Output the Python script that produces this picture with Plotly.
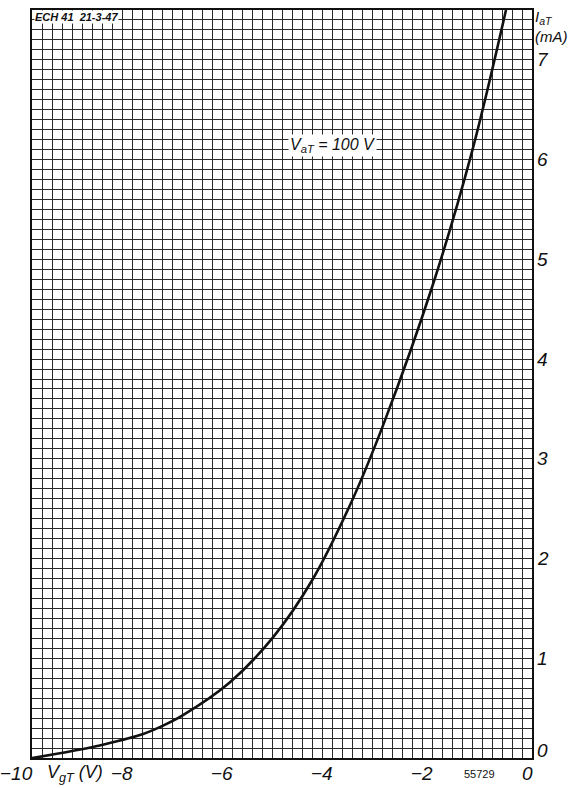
import plotly.graph_objects as go

# Curve data: grid voltage (V) vs anode current (mA)
v_grid = [-10, -9.35, -8.7, -7.84, -7.4, -6.98, -6.04, -5.18, -4.4, -3.6, -2.96,
          -1.98, -1.2, -0.52]
i_anode = [0, 0.055, 0.12, 0.23, 0.32, 0.43, 0.76, 1.21, 1.78, 2.58, 3.36,
           4.75, 6.08, 7.5]

x_tick_vals = [-10, -8, -6, -4, -2, 0]
x_tick_text = ["\u221210", "\u22128", "\u22126", "\u22124", "\u22122", "0"]
y_tick_vals = [0, 1, 2, 3, 4, 5, 6, 7]
y_tick_text = ["0", "1", "2", "3", "4", "5", "6", "7"]

FONT = "Liberation Sans"
ink = "#111111"

fig = go.Figure()
fig.add_trace(go.Scatter(
    x=v_grid, y=i_anode, mode="lines",
    line=dict(color=ink, width=2.6, shape="spline", smoothing=1.0),
    hoverinfo="skip", showlegend=False,
))

annotations = []
for v, t in zip(x_tick_vals, x_tick_text):
    annotations.append(dict(x=v, y=0, xref="x", yref="y", text=f"<i>{t}</i>",
                            showarrow=False, xanchor="right", yanchor="top",
                            xshift=3, yshift=-3,
                            font=dict(family=FONT, size=19, color=ink)))
for val, t in zip(y_tick_vals, y_tick_text):
    annotations.append(dict(x=0, y=val, xref="x", yref="y", text=f"<i>{t}</i>",
                            showarrow=False, xanchor="left", yanchor="middle",
                            xshift=3, yshift=(8 if val == 0 else 0),
                            font=dict(family=FONT, size=19, color=ink)))

annotations += [
    dict(x=-9.75, y=0, xref="x", yref="y", text="<i>V<sub>gT</sub> (V)</i>",
         showarrow=False, xanchor="left", yanchor="top", yshift=-2,
         font=dict(family=FONT, size=18, color=ink)),
    dict(x=-1.05, y=0, xref="x", yref="y", text="55729",
         showarrow=False, xanchor="center", yanchor="top", yshift=-8,
         font=dict(family=FONT, size=11, color=ink)),
    dict(x=1.0, y=1.0, xref="paper", yref="paper",
         text="<i>I<sub>aT</sub></i><br><i>(mA)</i>",
         showarrow=False, xanchor="left", yanchor="top", align="left",
         xshift=1, yshift=4,
         font=dict(family=FONT, size=15, color=ink)),
    dict(x=-9.97, y=7.5, xref="x", yref="y", text="<i><b>ECH 41  21-3-47</b></i>",
         showarrow=False, xanchor="left", yanchor="top", bgcolor="white",
         borderpad=0, font=dict(family=FONT, size=11, color=ink)),
    dict(x=-4.0, y=6.14, xref="x", yref="y", text="<i>V<sub>aT</sub> = 100 V</i>",
         showarrow=False, xanchor="center", yanchor="middle", bgcolor="white",
         borderpad=1, font=dict(family=FONT, size=16, color=ink)),
]

fig.update_layout(
    width=573, height=788,
    margin=dict(l=32, r=41, t=8, b=30),
    paper_bgcolor="white", plot_bgcolor="white",
    annotations=annotations,
    xaxis=dict(range=[-10, 0], dtick=0.2, tick0=-10, showticklabels=False,
               showgrid=True, gridcolor="#2a2a2a", gridwidth=1, zeroline=False,
               showline=True, linecolor=ink, linewidth=1.5, mirror=True,
               ticks=""),
    yaxis=dict(range=[0, 7.5], dtick=0.1, tick0=0, showticklabels=False,
               showgrid=True, gridcolor="#2a2a2a", gridwidth=1, zeroline=False,
               showline=True, linecolor=ink, linewidth=1.5, mirror=True,
               ticks=""),
)

fig.write_html("out.html", config={"displayModeBar": False},
               post_script="document.body.style.margin='0';document.body.style.overflow='hidden';")
